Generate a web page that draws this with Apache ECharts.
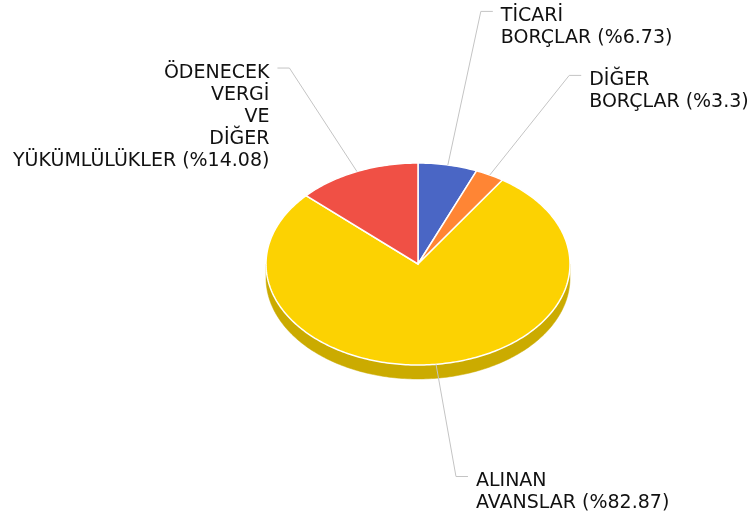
<!DOCTYPE html>
<html>
<head>
<meta charset="utf-8">
<script src="https://cdn.jsdelivr.net/npm/echarts@6/dist/echarts.min.js"></script>
<style>
html, body { margin: 0; padding: 0; background: #fff; }
#main { width: 755px; height: 522px; }
</style>
</head>
<body>
<div id="main"></div>
<script>
var names = ['TİCARİ\nBORÇLAR', 'DİĞER\nBORÇLAR', 'ALINAN\nAVANSLAR', 'ÖDENECEK\nVERGİ\nVE\nDİĞER\nYÜKÜMLÜLÜKLER'];
var values = [6.73, 3.3, 82.87, 14.08];
var colors = ['#4a66c5', '#ff8534', '#fcd202', '#f05045'];
var sideColors = ['#3a519e', '#cc6a2a', '#cbab00', '#c0403a'];

// pie layout (pixels)
var cx = 418, cy = 264, rx = 152, ry = 101, depth = 14;
var lrx = 320, lry = 214;   // label ellipse
var lineH = 22;
var font = 'DejaVu Sans';

var total = 0;
values.forEach(function (v) { total += v; });

function pt(a, dy) {
	return [cx + rx * Math.sin(a), cy - ry * Math.cos(a) + (dy || 0)];
}

function arc(a0, a1, dy) {
	var pts = [];
	var n = Math.max(2, Math.ceil((a1 - a0) / (Math.PI / 180)));
	for (var k = 0; k <= n; k++) {
		pts.push(pt(a0 + (a1 - a0) * k / n, dy));
	}
	return pts;
}

// angles + label anchors
var slices = [];
var acc = 0;
values.forEach(function (v, i) {
	var a0 = acc / total * Math.PI * 2;
	acc += v;
	var a1 = acc / total * Math.PI * 2;
	var mid = (a0 + a1) / 2;
	slices.push({
		a0: a0, a1: a1, mid: mid,
		right: Math.sin(mid) >= 0,
		ex: cx + lrx * Math.sin(mid),
		ey: cy - lry * Math.cos(mid),
		lines: names[i].split('\n').length
	});
});

// push labels apart (per side, from bottom up)
[true, false].forEach(function (side) {
	var list = slices.filter(function (s) { return s.right === side; });
	list.sort(function (a, b) { return b.ey - a.ey; });
	for (var k = 1; k < list.length; k++) {
		var limit = list[k - 1].ey - (list[k].lines * lineH + 20);
		if (list[k].ey > limit) list[k].ey = limit;
	}
});

function renderItem(params, api) {
	var i = params.dataIndex;
	var s = slices[i];
	var children = [];

	// front wall
	var w0 = Math.max(s.a0, Math.PI / 2), w1 = Math.min(s.a1, Math.PI * 1.5);
	if (w1 > w0) {
		var top = arc(w0, w1, 0);
		var bottom = arc(w0, w1, depth).reverse();
		children.push({
			type: 'polygon',
			z2: 1,
			shape: { points: top.concat(bottom) },
			style: { fill: sideColors[i], stroke: sideColors[i], lineWidth: 0.5 }
		});
	}

	// top face
	children.push({
		type: 'polygon',
		z2: 2,
		shape: { points: [[cx, cy]].concat(arc(s.a0, s.a1, 0)) },
		style: { fill: colors[i], stroke: '#fff', lineWidth: 1.5 }
	});

	// leader line
	var p = pt(s.mid, 0);
	var dir = s.right ? 1 : -1;
	children.push({
		type: 'polyline',
		z2: 3,
		shape: { points: [p, [s.ex, s.ey], [s.ex + dir * 12, s.ey]] },
		style: { stroke: '#c4c4c4', lineWidth: 1, fill: null }
	});

	// label
	children.push({
		type: 'text',
		z2: 4,
		style: {
			text: names[i] + ' (%' + api.value(0) + ')',
			x: s.ex + dir * 20,
			y: s.ey + 5 - lineH / 2,
			align: s.right ? 'left' : 'right',
			verticalAlign: 'top',
			lineHeight: lineH,
			fontSize: 19,
			fontFamily: font,
			fill: '#111'
		}
	});

	return { type: 'group', children: children };
}

var chart = echarts.init(document.getElementById('main'));
chart.setOption({
	animation: false,
	series: [{
		type: 'custom',
		coordinateSystem: 'none',
		renderItem: renderItem,
		data: values.map(function (v, i) {
			return { name: names[i], value: [v, i] };
		})
	}]
});
</script>
</body>
</html>
